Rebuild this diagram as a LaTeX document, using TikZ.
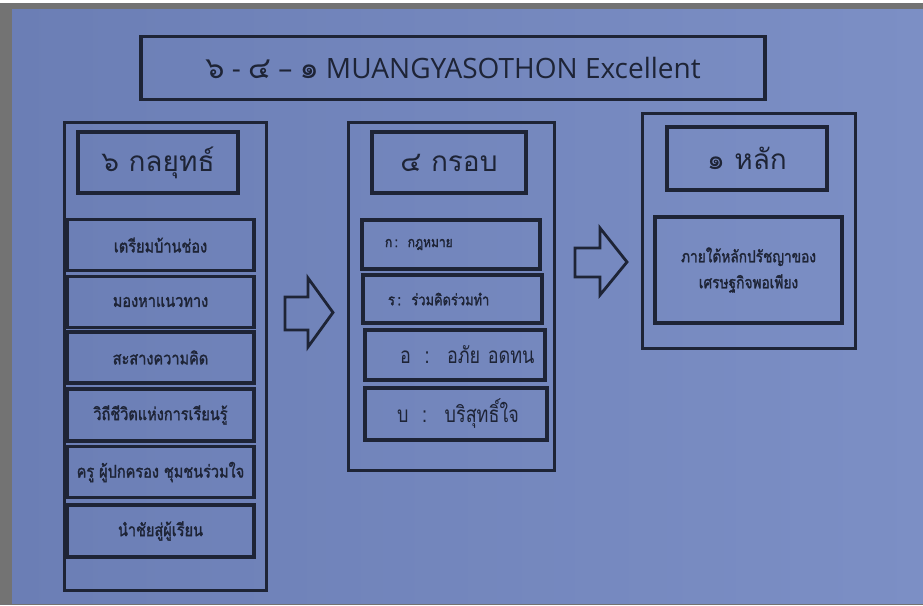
\documentclass[tikz,border=0pt]{standalone}
\usepackage{fontspec}
\setmainfont{Open Sans}
\newfontfamily\thaifont[Script=Thai]{Loma}
\newfontfamily\thaidigit[Script=Thai,Scale=1.08]{Loma}
\newfontfamily\thaicond[Script=Thai,FakeStretch=0.8]{Loma}
\newfontfamily\thaiitem[Script=Thai,FakeStretch=0.83,FakeBold=1.6]{Loma}
\definecolor{paper}{HTML}{889CD1}
\definecolor{paperleft}{HTML}{6B7EB5}
\definecolor{paperright}{HTML}{7C8FC5}
\definecolor{ink}{HTML}{1E2436}
\begin{document}
\begin{tikzpicture}[x=1pt,y=-1pt,
    box/.style={draw=ink,text=ink,inner sep=0pt},
    panel/.style={box,line width=3pt},
    headbox/.style={box,line width=3.6pt,minimum width=160pt,minimum height=61pt,
      font=\thaifont\fontsize{28}{32}\selectfont},
    itembox/.style={box,line width=3.3pt,minimum width=187pt,minimum height=51pt,
      font=\thaiitem\fontsize{17.5}{20}\selectfont},
    rulebox/.style={box,line width=3.3pt,align=left,text width=#1},
    blockarrow/.style={draw=ink,line width=2.8pt,line join=miter}]
  % paper
  \fill[white] (0,0) rectangle (923,605);
  \fill[gray!90!black] (0,3) rectangle (923,605);
  \shade[left color=paperleft,middle color=paper,right color=paperright]
    (12,9) rectangle (923,603);
  \useasboundingbox (0,0) rectangle (923,605);
  % title
  \node[box,line width=3.2pt,minimum width=624pt,minimum height=63pt,
    font=\fontsize{28}{32}\selectfont] (title) at (453,68)
    {{\thaidigit ๖} - {\thaidigit ๔} -- {\thaidigit ๑} MUANGYASOTHON Excellent};
  % panels
  \node[panel,minimum width=202pt,minimum height=468pt] (strategy) at (165,356) {};
  \node[panel,minimum width=206pt,minimum height=348pt] (frame) at (451,296) {};
  \node[panel,minimum width=213pt,minimum height=235pt] (principle) at (748.5,230.5) {};
  % headings
  \node[headbox] (stratHead) at (158,162.5) {๖ กลยุทธ์};
  \node[headbox,minimum width=154pt] (frameHead) at (449,162.5) {๔ กรอบ};
  \node[headbox,minimum height=63pt] (prinHead) at (747,158.5) {๑ หลัก};
  % six strategies
  \draw
    (160.5,245) node[itembox] (s1) {เตรียมบ้านช่อง}
    (160.5,302) node[itembox] (s2) {มองหาแนวทาง}
    (160.5,357.5) node[itembox] (s3) {สะสางความคิด}
    (160.5,415) node[itembox,minimum height=52pt] (s4) {วิถีชีวิตแห่งการเรียนรู้}
    (160.5,472) node[itembox] (s5) {ครู ผู้ปกครอง ชุมชนร่วมใจ}
    (160.5,531) node[itembox,minimum height=52pt] (s6) {นำชัยสู่ผู้เรียน};
  % four frames
  \node[rulebox=178pt,minimum height=49pt,
    font=\thaiitem\fontsize{14.5}{18}\selectfont] (kor) at (451,244.5)
    {\hspace*{23pt}\mbox{ก\,:\, กฎหมาย}};
  \node[rulebox=179pt,minimum height=48pt,
    font=\thaiitem\fontsize{15.5}{18}\selectfont] (ror) at (452.5,299)
    {\hspace*{25pt}\mbox{ร\,:\, ร่วมคิดร่วมทำ}};
  \node[rulebox=180pt,minimum height=50pt,
    font=\thaicond\fontsize{22.5}{28}\selectfont] (or) at (455,355)
    {\hspace*{35pt}\mbox{อ\; :\; อภัย อดทน}};
  \node[rulebox=182pt,minimum height=52pt,
    font=\thaicond\fontsize{22.5}{28}\selectfont] (bor) at (456,414)
    {\hspace*{32pt}\mbox{บ\; :\; บริสุทธิ์ใจ}};
  % one principle
  \node[box,line width=3.3pt,minimum width=187pt,minimum height=106pt,align=center,
    font=\thaiitem\fontsize{16.5}{26}\selectfont] (sufficiency) at (748.5,270)
    {ภายใต้หลักปรัชญาของ\\เศรษฐกิจพอเพียง};
  % block arrows
  \draw[blockarrow] (285,297) -- (308,297) -- (308,278) -- (333,312.5)
    -- (308,347) -- (308,330) -- (285,330) -- cycle;
  \draw[blockarrow] (575,248) -- (600,248) -- (600,228) -- (627,262)
    -- (600,295) -- (600,277) -- (575,277) -- cycle;
\end{tikzpicture}
\end{document}
